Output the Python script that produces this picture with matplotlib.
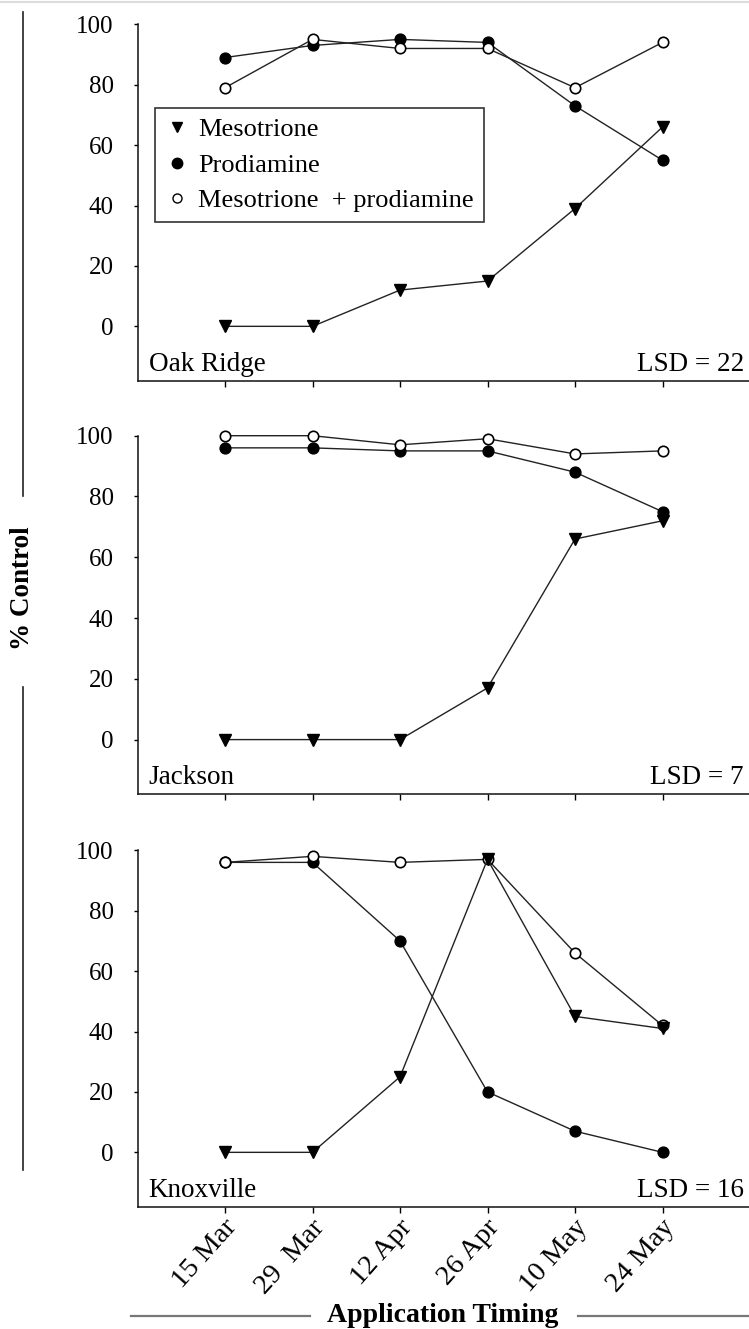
import matplotlib
matplotlib.use("Agg")
import matplotlib.pyplot as plt
import matplotlib.transforms as mtransforms
from matplotlib.lines import Line2D

plt.rcParams['font.family'] = ['Liberation Serif', 'DejaVu Serif']

# application timings (x categories)
timings = ["15 Mar", "29  Mar", "12 Apr", "26 Apr", "10 May", "24 May"]
sites = ["Oak Ridge", "Jackson", "Knoxville"]
lsd = [22, 7, 16]

# % control
mesotrione = [
    [0, 0, 12, 15, 39, 66],
    [0, 0, 0, 17, 66, 72],
    [0, 0, 25, 97, 45, 41],
]
prodiamine = [
    [89, 93, 95, 94, 73, 55],
    [96, 96, 95, 95, 88, 75],
    [96, 96, 70, 20, 7, 0],
]
combination = [
    [79, 95, 92, 92, 79, 94],
    [100, 100, 97, 99, 94, 95],
    [96, 98, 96, 97, 66, 42],
]
yticks = [0, 20, 40, 60, 80, 100]

W, H = 749, 1329
fig = plt.figure(figsize=(W / 100, H / 100), dpi=100)

# axes boxes in pixels: (top, bottom)
boxes = [(24.3, 380.7), (435.7, 794.3), (850.3, 1206.7)]
left_px = 137.5
width_px = 612.5

line_kw = dict(color="#222222", lw=1.0, clip_on=False)
x = list(range(1, len(timings) + 1))

for i, (top, bot) in enumerate(boxes):
    ax = fig.add_axes([left_px / W, 1 - bot / H, width_px / W, (bot - top) / H])
    ax.plot(x, prodiamine[i], marker="o", ms=7.8, mfc="black", mec="black", **line_kw)
    ax.plot(x, combination[i], marker="o", ms=7.5, mfc="white", mec="black", mew=1.2, **line_kw)
    ax.plot(x, mesotrione[i], marker="v", ms=8.5, mfc="black", mec="black", **line_kw)

    ax.set_xlim(0, 7)
    ax.set_ylim(-18, 100)
    ax.set_yticks(yticks)
    ax.set_xticks(x)
    for s in ["top", "right"]:
        ax.spines[s].set_visible(False)
    ax.spines["left"].set_bounds(-18, 100)
    for s in ["left", "bottom"]:
        ax.spines[s].set_linewidth(1.1)
        ax.spines[s].set_color("#111111")
    ax.tick_params(axis="y", direction="out", length=3.2, width=1.0, pad=14, labelsize=18)
    ax.tick_params(axis="x", direction="out", length=4.3, width=1.0, pad=4, labelsize=20.5)

    if i == 2:
        ax.set_xticklabels(timings, rotation=48, ha="right", va="center",
                           rotation_mode="anchor")
        shift = mtransforms.ScaledTranslation(8 / 100, -5 / 100, fig.dpi_scale_trans)
        for lab in ax.get_xticklabels():
            lab.set_transform(lab.get_transform() + shift)
    else:
        ax.set_xticklabels([])

    ax.text(0.018, 0.028, sites[i], transform=ax.transAxes, fontsize=19.5,
            ha="left", va="baseline")
    ax.text(0.990, 0.028, "LSD = %d" % lsd[i], transform=ax.transAxes, fontsize=19.5,
            ha="right", va="baseline")

    if i == 0:
        handles = [
            Line2D([], [], ls="none", marker="v", ms=7.5, mfc="black", mec="black"),
            Line2D([], [], ls="none", marker="o", ms=7.5, mfc="black", mec="black"),
            Line2D([], [], ls="none", marker="o", ms=6.5, mfc="white", mec="black", mew=1.0),
        ]
        labels = ["Mesotrione", "Prodiamine", "Mesotrione  + prodiamine"]
        leg = ax.legend(handles, labels, loc="upper left",
                        bbox_to_anchor=(155 / W, 1 - 108 / H),
                        bbox_transform=fig.transFigure, fontsize=19,
                        frameon=True, fancybox=False, borderaxespad=0,
                        handlelength=0.9, handletextpad=0.35, labelspacing=0.45,
                        borderpad=0.38)
        leg.get_frame().set_edgecolor("black")
        leg.get_frame().set_linewidth(1.2)

# y label with broken line
fig.text(23 / W, 1 - 588 / H, "% Control", rotation=90, fontsize=19.5,
         fontweight="bold", ha="center", va="center")
for y0, y1 in [(12, 496), (687, 1170)]:
    fig.add_artist(Line2D([23 / W, 23 / W], [1 - y0 / H, 1 - y1 / H],
                          color="#222222", lw=1.2))

# x label with lines on each side
fig.text(443 / W, 1 - 1316 / H, "Application Timing", fontsize=20,
         fontweight="bold", ha="center", va="center")
for x0, x1 in [(131, 310), (578, 749)]:
    fig.add_artist(Line2D([x0 / W, x1 / W], [1 - 1316 / H, 1 - 1316 / H],
                          color="#777777", lw=1.6))

# faint page border line at the top
fig.add_artist(Line2D([0, 1], [1 - 2 / H, 1 - 2 / H], color="#dddddd", lw=1.5))

fig.savefig("out.png", dpi=100, facecolor="white")
